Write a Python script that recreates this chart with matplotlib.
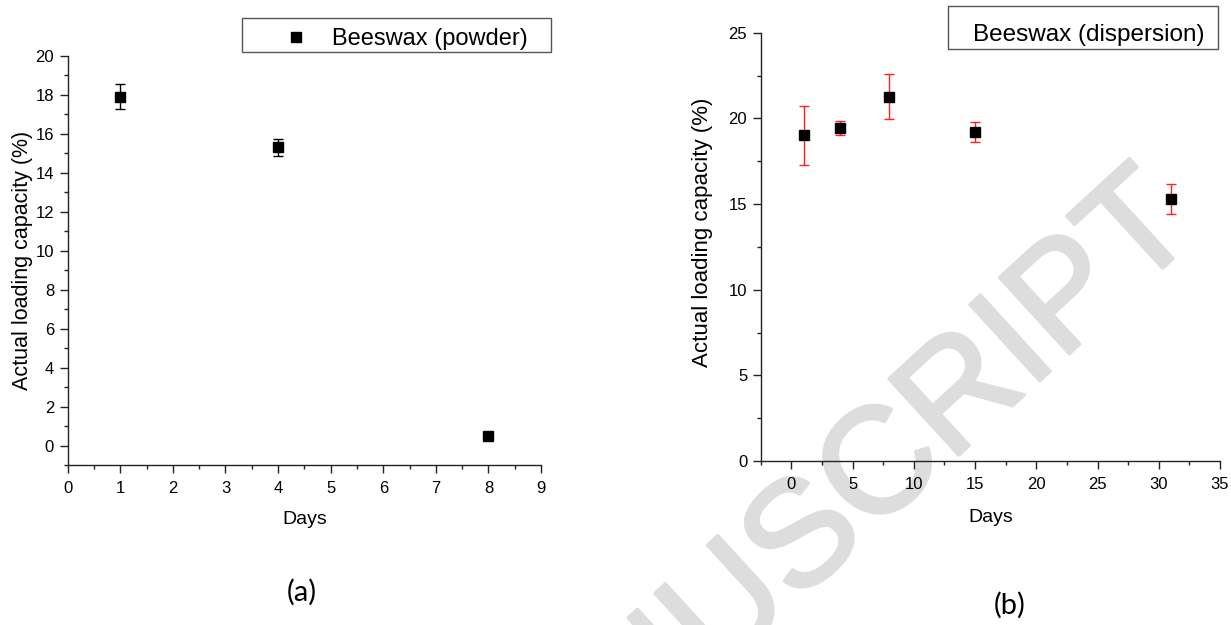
import matplotlib
matplotlib.use('Agg')
import matplotlib.pyplot as plt
import matplotlib.patheffects as pe
from matplotlib.lines import Line2D
from matplotlib.patches import Rectangle
from matplotlib.ticker import MultipleLocator

W, H = 1231, 625  # output size in pixels (dpi 100)

# (a) beeswax powder
powder_days = [1, 4, 8]
powder_loading = [17.9, 15.32, 0.5]
powder_err = [0.64, 0.44, 0.1]

# (b) beeswax dispersion
disp_days = [1, 4, 8, 15, 31]
disp_loading = [19.02, 19.43, 21.27, 19.2, 15.31]
disp_err = [1.73, 0.43, 1.31, 0.58, 0.88]

Y_LABEL = 'Actual loading capacity (%)'
X_LABEL = 'Days'
WATERMARK = 'ACCEPTED MANUSCRIPT'

plt.rcParams['font.family'] = ['Liberation Sans', 'DejaVu Sans']


def fx(x):
    """pixel x -> figure fraction"""
    return x / W


def fy(y):
    """pixel y (from top) -> figure fraction"""
    return 1 - y / H


def style_axes(ax, tick_size):
    """Origin-like axes: left/bottom spines only, outward ticks."""
    ax.patch.set_alpha(0)
    for side in ['top', 'right']:
        ax.spines[side].set_visible(False)
    for side in ['left', 'bottom']:
        ax.spines[side].set_linewidth(1.0)
        ax.spines[side].set_color('#222222')
    ax.tick_params(which='major', direction='out', length=5.8, width=1.0,
                   color='#222222', labelsize=tick_size)
    ax.tick_params(which='minor', direction='out', length=3, width=1.0, color='#222222')
    ax.tick_params(axis='x', which='major', pad=6)
    ax.tick_params(axis='y', which='major', pad=4)


def draw_legend(fig, box, text, text_xy, fontsize, marker_xy=None):
    """Draws a plain framed legend at pixel positions."""
    x0, y0, x1, y1 = box
    fig.add_artist(Rectangle((fx(x0), fy(y1)), fx(x1 - x0), (y1 - y0) / H,
                             transform=fig.transFigure, fill=False,
                             edgecolor='#555555', linewidth=1.0))
    if marker_xy is not None:
        fig.add_artist(Line2D([fx(marker_xy[0])], [fy(marker_xy[1])], marker='s',
                              markersize=6.5, color='black', linestyle='none',
                              transform=fig.transFigure))
    fig.text(fx(text_xy[0]), fy(text_xy[1]), text, fontsize=fontsize,
             ha='left', va='baseline')


fig = plt.figure(figsize=(W / 100, H / 100), dpi=100)

# watermark behind everything (regular face, thickened a little with a stroke)
fig.text(0.976, 0.628, WATERMARK, rotation=42.5, rotation_mode='anchor', ha='right',
         va='baseline', fontsize=108, color='#dddddd', zorder=-1,
         path_effects=[pe.withStroke(linewidth=2.5, foreground='#dddddd')])

# ---- panel (a)
ax1 = fig.add_axes([0.0550, 0.256, 0.3845, 0.6544])
ax1.errorbar(powder_days, powder_loading, yerr=powder_err, fmt='s', color='black',
             markersize=6.5, ecolor='black', elinewidth=1.0, capsize=3.3, capthick=1.0)
ax1.set_xlim(0, 9)
ax1.set_ylim(-1, 20)
ax1.xaxis.set_major_locator(MultipleLocator(1))
ax1.xaxis.set_minor_locator(MultipleLocator(0.5))
ax1.yaxis.set_major_locator(MultipleLocator(2))
ax1.yaxis.set_minor_locator(MultipleLocator(1))
style_axes(ax1, 12)
ax1.set_xlabel(X_LABEL, fontsize=14, va='top')
ax1.xaxis.set_label_coords(0.5, -0.1125)
ax1.set_ylabel(Y_LABEL, fontsize=15.5)
ax1.yaxis.set_label_coords(-0.0733, 0.5)

# ---- panel (b)
ax2 = fig.add_axes([0.6180, 0.2624, 0.3731, 0.6853])
ax2.errorbar(disp_days, disp_loading, yerr=disp_err, fmt='s', color='black',
             markersize=6.5, ecolor='#ff2020', elinewidth=1.0, capsize=3.4, capthick=1.0)
ax2.set_xlim(-2.5, 35)
ax2.set_ylim(0, 25)
ax2.xaxis.set_major_locator(MultipleLocator(5))
ax2.xaxis.set_minor_locator(MultipleLocator(2.5))
ax2.yaxis.set_major_locator(MultipleLocator(5))
ax2.yaxis.set_minor_locator(MultipleLocator(2.5))
style_axes(ax2, 12)
ax2.set_xticks([0, 5, 10, 15, 20, 25, 30, 35])
ax2.set_xlabel(X_LABEL, fontsize=14, va='top')
ax2.xaxis.set_label_coords(0.5, -0.112)
ax2.set_ylabel(Y_LABEL, fontsize=16)
ax2.yaxis.set_label_coords(-0.103, 0.535)

# legends
draw_legend(fig, (242.3, 18.3, 551, 52), 'Beeswax (powder)', (331.7, 45), 17,
            marker_xy=(296, 36.7))
draw_legend(fig, (947.7, 6.2, 1217.6, 49), 'Beeswax (dispersion)', (973.4, 41.4), 17.5)

# panel tags
fig.text(fx(302), fy(592), '(a)', fontsize=21, family=['Lato', 'DejaVu Sans'],
         ha='center', va='center')
fig.text(fx(1010), fy(605), '(b)', fontsize=21, family=['Lato', 'DejaVu Sans'],
         ha='center', va='center')

fig.savefig('out.png', dpi=100)
